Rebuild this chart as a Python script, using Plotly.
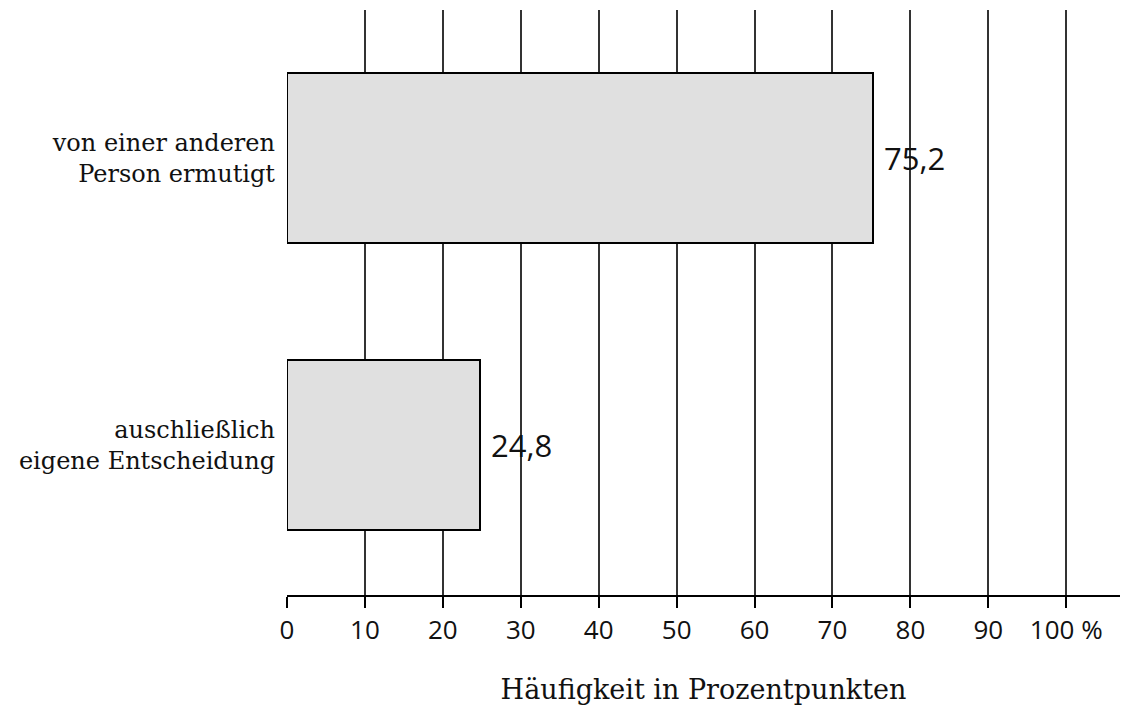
import plotly.graph_objects as go

categories = ["auschließlich<br>eigene Entscheidung", "von einer anderen<br>Person ermutigt"]
values = [24.8, 75.2]
tick_vals = [0, 10, 20, 30, 40, 50, 60, 70, 80, 90, 100]
tick_text = ["0", "10", "20", "30", "40", "50", "60", "70", "80", "90", "100 %"]
axis_title = "Häufigkeit in Prozentpunkten"

serif = "DejaVu Serif"
sans = "Open Sans"

fig = go.Figure()
fig.add_trace(go.Bar(
    x=values, y=[0, 1], orientation="h",
    width=0.592,
    marker=dict(color="#e0e0e0", line=dict(color="#000000", width=2)),
    hoverinfo="skip",
))

for i, v in enumerate(values):
    fig.add_annotation(
        x=v, y=i, xref="x", yref="y",
        text=f"{v:.1f}".replace(".", ","),
        showarrow=False, xanchor="left", yanchor="middle",
        xshift=9,
        font=dict(family=sans, size=31, color="#111111"),
    )

fig.update_layout(
    width=1121, height=711,
    margin=dict(l=287, r=1, t=10, b=116),
    plot_bgcolor="white", paper_bgcolor="white",
    showlegend=False,
    bargap=0,
    xaxis=dict(
        range=[0, 106.9],
        tickmode="array", tickvals=tick_vals, ticktext=tick_text,
        showgrid=True, gridcolor="#333333", gridwidth=1.5,
        zeroline=False,
        showline=True, linecolor="#000000", linewidth=1.5,
        ticks="outside", ticklen=11, tickcolor="#000000", tickwidth=1.5,
        tickfont=dict(family=sans, size=26, color="#111111"),
        title=dict(text=axis_title, font=dict(family=serif, size=27, color="#111111"), standoff=34),
        layer="above traces",
    ),
    yaxis=dict(
        range=[-0.523, 1.516],
        tickmode="array", tickvals=[0, 1], ticktext=categories,
        showgrid=False, zeroline=False, showline=False,
        ticks="", ticklabelstandoff=11,
        tickfont=dict(family=serif, size=24, color="#111111"),
    ),
)

fig.write_html(
    "out.html",
    config={"displayModeBar": False},
    post_script="document.body.style.margin='0';document.body.style.overflow='hidden';",
)
